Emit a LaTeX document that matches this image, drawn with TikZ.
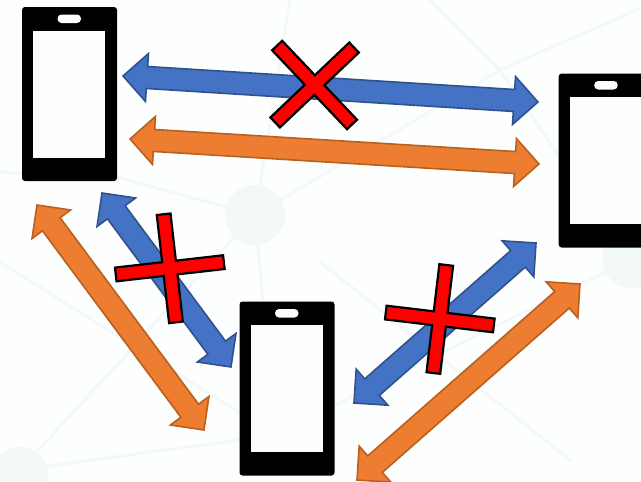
\documentclass[tikz,border=0pt]{standalone}
\tikzset{
  x=1pt,y=1pt,
  bgline/.style={draw=bgl,line width=3pt,line cap=round},
  bghub/.style={fill=bgh,draw=none},
  bluearrow/.style={fill=arrblue,draw=arrblueedge,line width=1.6pt,line join=miter},
  orangearrow/.style={fill=arrorange,draw=arrorangeedge,line width=1.6pt,line join=miter},
  crossshape/.style={fill=red,draw=black,line width=2.2pt,line join=miter},
  phonebody/.style={fill=black,draw=none,rounded corners=3pt},
  phonepart/.style={fill=screenw,draw=none},
}
\definecolor{bgw}{HTML}{FDFEFE}
\definecolor{screenw}{HTML}{FCFDFD}
\definecolor{bgl}{HTML}{F4F8F8}
\definecolor{bgh}{HTML}{F3F8F8}
\definecolor{arrblue}{HTML}{4472C4}
\definecolor{arrblueedge}{HTML}{2F528F}
\definecolor{arrorange}{HTML}{ED7D31}
\definecolor{arrorangeedge}{HTML}{B9601F}
% double block arrow from tip (x1,y1) to tip (x2,y2), image coordinates
\newcommand{\blockarrow}[5]{%
  \pgfmathsetmacro{\ang}{atan2(-(#4)+(#2),(#3)-(#1))}%
  \pgfmathsetmacro{\len}{veclen((#3)-(#1),(#4)-(#2))}%
  \begin{scope}[shift={(#1,-#2)},rotate=\ang]
    \path[#5] (0,0) -- (24,24) -- (24,11) -- (\len-24,11) -- (\len-24,24)
      -- (\len,0) -- (\len-24,-24) -- (\len-24,-11) -- (24,-11) -- (24,-24) -- cycle;
  \end{scope}}
% plus-shaped cross at centre (x,y), rotated
\newcommand{\crossmark}[3]{%
  \begin{scope}[shift={(#1,-#2)},rotate=#3]
    \path[crossshape] (-54.4,-6.9) -- (-6.9,-6.9) -- (-6.9,-54.4) -- (6.9,-54.4) -- (6.9,-6.9)
      -- (54.4,-6.9) -- (54.4,6.9) -- (6.9,6.9) -- (6.9,54.4) -- (-6.9,54.4) -- (-6.9,6.9)
      -- (-54.4,6.9) -- cycle;
  \end{scope}}
% phone with top-left corner of the body at (x,y)
\newcommand{\phonemark}[2]{%
  \begin{scope}[shift={(#1,-#2)}]
    \path[phonebody] (0,0) rectangle (95,-174);
    \path[phonepart] (11.3,-23.5) rectangle (83,-150.5);
    \path[phonepart,rounded corners=4pt] (35.5,-7.5) rectangle (59,-16);
  \end{scope}}
\begin{document}
\begin{tikzpicture}
\useasboundingbox (0,0) rectangle (641,-482);
\clip (0,0) rectangle (641,-482);
\fill[bgw] (0,0) rectangle (641,-482);
% faint network backdrop
\draw[bgline] (255,-215) -- (290,0);
\draw[bgline] (255,-215) -- (120,-178) -- (0,-172);
\draw[bgline] (255,-215) -- (500,-70);
\draw[bgline] (255,-215) -- (20,-470);
\draw[bgline] (255,-215) -- (275,-435);
\draw[bgline] (500,-70) -- (430,0);
\draw[bgline] (500,-70) -- (641,-8);
\draw[bgline] (500,-70) -- (630,-260);
\draw[bgline] (275,-435) -- (630,-260);
\draw[bgline] (320,-262) -- (570,-460);
\draw[bgline] (0,-262) -- (275,-435);
\draw[bgline] (20,-470) -- (275,-435);
\fill[bghub] (255,-215) circle (30);
\fill[bghub] (275,-435) circle (30);
\fill[bghub] (20,-475) circle (28);
\fill[bghub] (632,-258) circle (30);
% phones
\phonemark{22}{7}
\phonemark{239.5}{301.5}
\phonemark{558.7}{73.5}
% blue arrows
\blockarrow{123}{76}{538}{102}{bluearrow}
\blockarrow{102}{193}{231}{367}{bluearrow}
\blockarrow{354}{403}{536}{243}{bluearrow}
% orange arrows
\blockarrow{130}{139}{539}{164}{orangearrow}
\blockarrow{37}{205}{204}{430}{orangearrow}
\blockarrow{357}{480}{580}{284}{orangearrow}
% crosses
\crossmark{314.6}{85}{-46.5}
\crossmark{169.8}{268.3}{6.5}
\crossmark{439.8}{319}{-6.8}
\end{tikzpicture}
\end{document}
